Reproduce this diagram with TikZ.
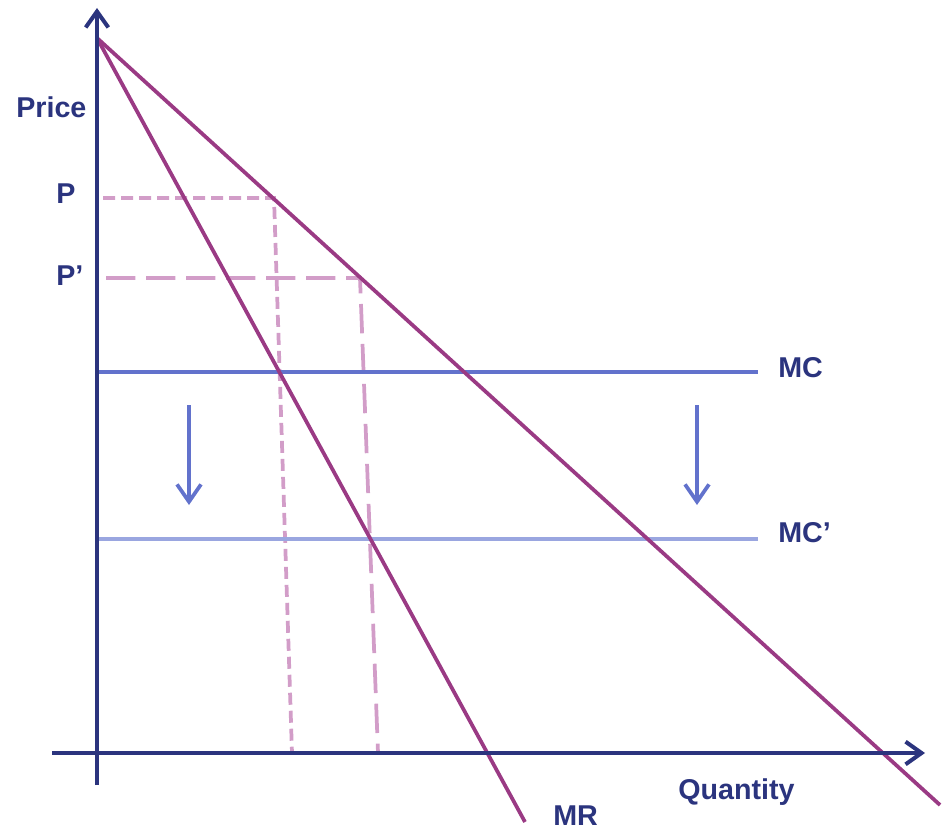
\documentclass[tikz,border=0pt]{standalone}
\usepackage{fontspec}
\setmainfont{Liberation Sans}
\usetikzlibrary{arrows.meta}
\definecolor{navy}{HTML}{2B347E}
\definecolor{purp}{HTML}{9A3A84}
\definecolor{pinkd}{HTML}{D29DC8}
\definecolor{mcblue}{HTML}{6272CC}
\definecolor{mclight}{HTML}{9AA6E0}
\tikzset{
  axis/.style={navy, line width=3pt, -{Straight Barb[length=12pt,width=17pt,line width=3pt]}},
  curve/.style={purp, line width=2.8pt},
  shortdash/.style={pinkd, line width=2.8pt, dash pattern=on 9pt off 4.5pt},
  longdash/.style={pinkd, line width=2.8pt, dash pattern=on 22pt off 8pt},
  shiftarrow/.style={mcblue, line width=2.8pt, -{Straight Barb[length=13pt,width=18pt,line width=2.8pt]}},
  lbl/.style={navy, font=\bfseries\fontsize{21.5}{24}\selectfont, inner sep=0pt}
}
\begin{document}
\begin{tikzpicture}[x=0.75pt,y=-0.75pt]
\useasboundingbox (0,0) rectangle (944,831);
% axes
\coordinate (ybot) at (97,785);
\coordinate (ytop) at (97,8);
\coordinate (xl) at (52,753);
\coordinate (xr) at (925,753);
% curves
\coordinate (A) at (97,38);
\coordinate (Dend) at (940,805);
\coordinate (MRend) at (525,822);
\coordinate (PD) at (274,198);
\coordinate (PpD) at (360,278);
\coordinate (Pax) at (103,198);
\coordinate (Ppax) at (106,278);
\coordinate (Qb) at (292,753);
\coordinate (Qpb) at (378,753);
\coordinate (MCl) at (97,372);
\coordinate (MCr) at (758,372);
\coordinate (MCpl) at (97,539);
\coordinate (MCpr) at (758,539);
\coordinate (a1s) at (189,405);
\coordinate (a1e) at (189,505);
\coordinate (a2s) at (697,405);
\coordinate (a2e) at (697,505);

\draw[shortdash] (Pax) -- (PD) -- (Qb);
\draw[longdash] (Ppax) -- (PpD) -- (Qpb);
\draw[mcblue, line width=2.8pt] (MCl) -- (MCr);
\draw[mclight, line width=2.8pt] (MCpl) -- (MCpr);
\draw[shiftarrow] (a1s) -- (a1e);
\draw[shiftarrow] (a2s) -- (a2e);
\draw[curve] (A) -- (Dend);
\draw[curve] (A) -- (MRend);
\draw[axis] (ybot) -- (ytop);
\draw[axis] (xl) -- (xr);

\node[lbl, anchor=west] (price) at (16,107) {Price};
\node[lbl, anchor=west] (plbl) at (56,194) {P};
\node[lbl, anchor=west] (pplbl) at (56,276) {P’};
\node[lbl, anchor=west] (mc) at (778,368) {MC};
\node[lbl, anchor=west] (mcp) at (778,533) {MC’};
\node[lbl, anchor=west] (qty) at (678,792) {Quantity};
\node[lbl, anchor=west] (mr) at (553,816) {MR};
\end{tikzpicture}
\end{document}
